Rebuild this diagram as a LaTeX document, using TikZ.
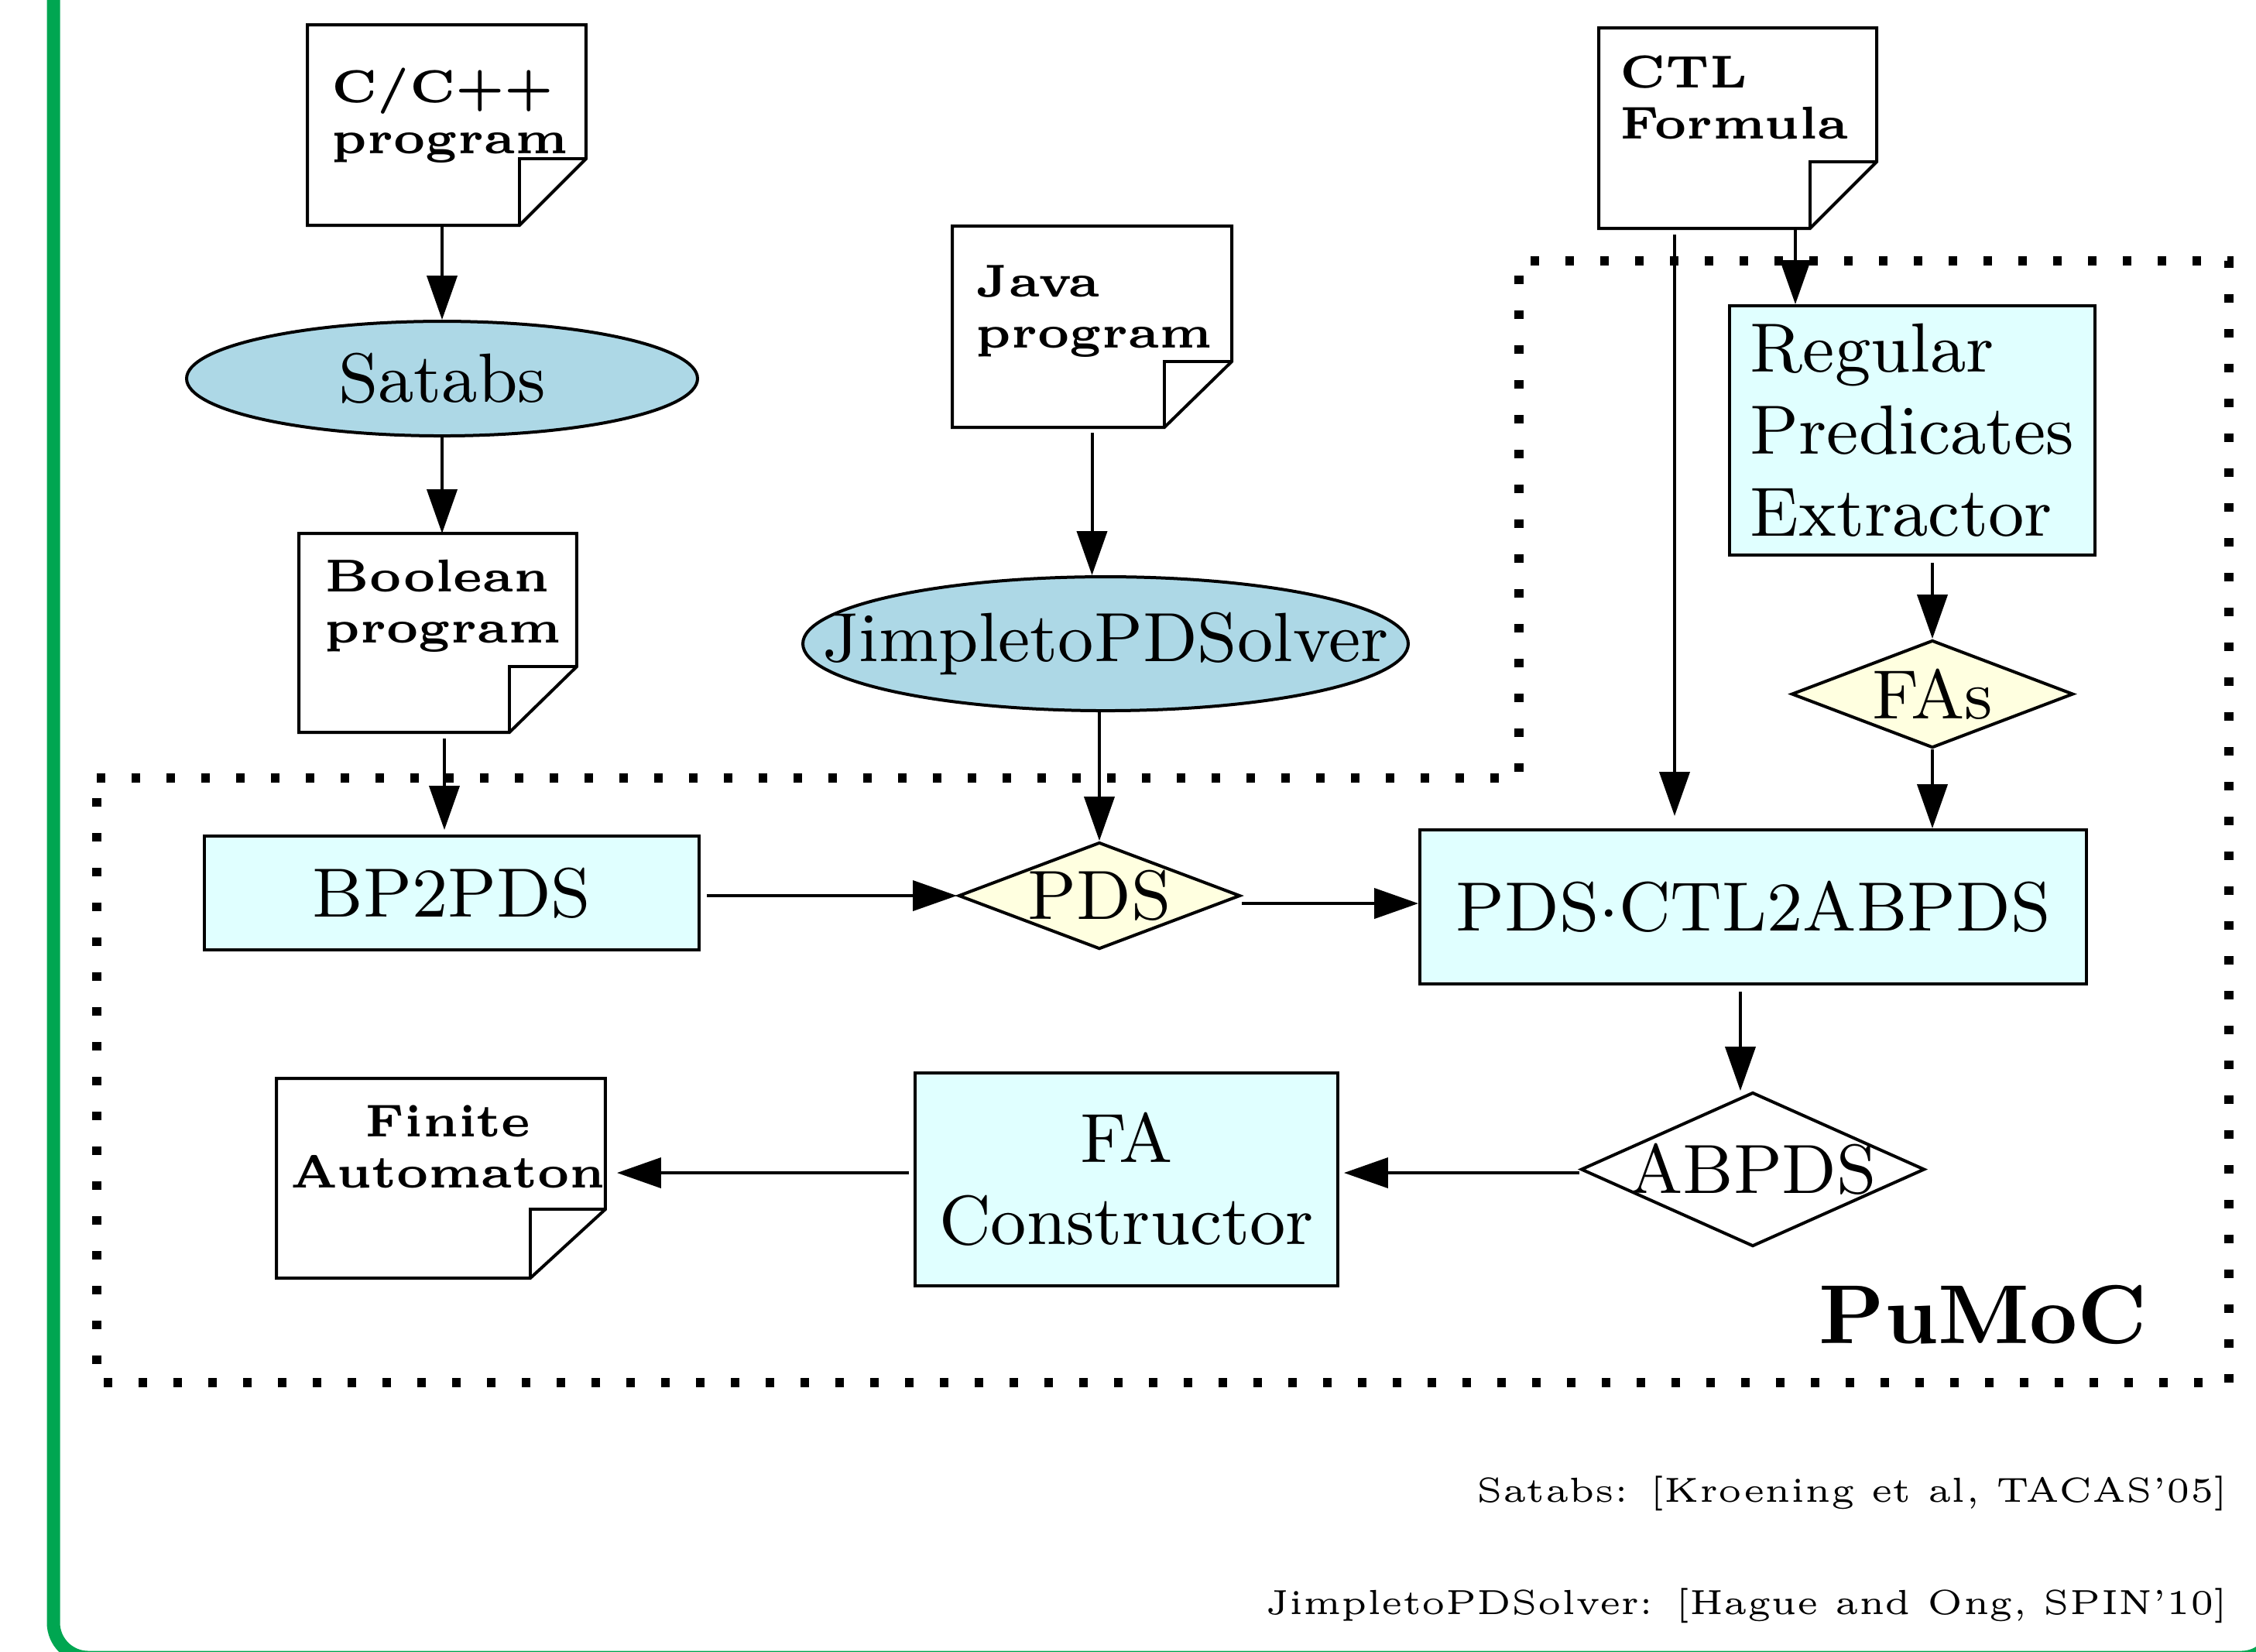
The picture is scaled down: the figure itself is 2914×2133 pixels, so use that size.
\documentclass[tikz,border=0pt]{standalone}
\usepackage{xcolor}
\usetikzlibrary{shapes.geometric,arrows.meta}

\definecolor{azulclaro}{HTML}{ADD8E6}
\definecolor{cianclaro}{HTML}{E0FFFF}
\definecolor{amarilloclaro}{HTML}{FFFFE0}
\definecolor{verdemarco}{RGB}{0,166,81}

\tikzset{
  borde/.style={line width=0.4pt},
  documento/.style={inner sep=0pt},
  textodoc/.style={inner sep=0pt, font=\fontsize{5.95}{6.6}\selectfont\bfseries},
  herramienta/.style={ellipse, draw, borde, fill=azulclaro, inner sep=0pt,
    font=\fontsize{9}{10.6}\selectfont},
  modulo/.style={rectangle, draw, borde, fill=cianclaro, inner sep=0pt,
    align=center, font=\fontsize{9}{10.6}\selectfont},
  dato/.style={diamond, draw, borde, fill=amarilloclaro, inner sep=0pt,
    font=\fontsize{9}{10.6}\selectfont},
  flecha/.style={borde, -{Triangle[length=5.7pt,width=3.9pt]}},
  limite/.style={line width=1.2pt, dash pattern=on 1.1pt off 3.4pt},
  referencia/.style={anchor=base east, inner sep=0pt,
    font=\fontsize{4.5}{5.5}\selectfont}
}

\begin{document}
\begin{tikzpicture}[x=0.1pt, y=0.1pt]
        % Paso 1: Fija el marco de la pagina
        \useasboundingbox (0,0) rectangle (2914,-2133);
        \draw[verdemarco, line width=1.7pt, rounded corners=4.5pt]
            (69,150) -- (69,-2141) -- (2940,-2141) -- (2940,150);

        % Paso 2: Dibuja el limite punteado de PuMoC
        \draw[limite] (125,-1005) -- (1962,-1005) -- (1962,-337)
            -- (2879,-337) -- (2879,-1786) -- (125,-1786) -- cycle;
        \node[anchor=base east, inner sep=0pt,
            font=\fontsize{10.8}{13}\selectfont\bfseries] (pumoc) at (2775,-1735) {PuMoC};

        % Paso 3: Define los documentos de entrada y salida
        \node[documento, minimum width=35.6pt, minimum height=25.5pt] (cpp) at (577,-161.5) {};
        \node[documento, minimum width=35.5pt, minimum height=25.3pt] (bool) at (565.5,-817.5) {};
        \node[documento, minimum width=35.7pt, minimum height=25.6pt] (java) at (1410.5,-422) {};
        \node[documento, minimum width=35.5pt, minimum height=25.5pt] (ctl) at (2244.5,-165.5) {};
        \node[documento, minimum width=42.1pt, minimum height=25.4pt] (fa) at (569.5,-1522) {};

        % Paso 4: Dibuja las hojas con la esquina doblada
        \foreach \d/\fx/\fy in {cpp/8.6/8.6, bool/8.7/8.5, java/8.7/8.5, ctl/8.6/8.6, fa/9.7/8.9} {
            \draw[borde] (\d.north west) -- (\d.north east) -- ([yshift=\fy pt]\d.south east)
                -- ([xshift=-\fx pt]\d.south east) -- (\d.south west) -- cycle;
            \draw[borde] ([yshift=\fy pt]\d.south east) -| ([xshift=-\fx pt]\d.south east);
        }

        % Paso 5: Escribe los textos de los documentos
        \node[textodoc, align=left] (cpptxt) at (581,-149.5) {C/C++\\program};
        \node[textodoc, align=left] (booltxt) at (572,-783) {Boolean\\program};
        \node[textodoc, align=left] (javatxt) at (1413,-402) {Java\\program};
        \node[textodoc, align=left] (ctltxt) at (2240,-126) {CTL\\Formula};
        \node[textodoc, align=center] (fatxt) at (578.5,-1481) {Finite\\Automaton};

        % Paso 6: Coloca herramientas, modulos y datos
        \node[herramienta, minimum width=66pt, minimum height=14.8pt] (satabs) at (571,-489) {Satabs};
        \node[herramienta, minimum width=78.2pt, minimum height=17.3pt] (jimple) at (1428,-831.5)
            {\makebox[0pt]{JimpletoPDSolver}};
        \node[modulo, minimum width=63.9pt, minimum height=14.7pt] (bp2pds) at (583.5,-1153.5) {BP2PDS};
        \node[dato, minimum width=36.4pt, minimum height=13.8pt] (pds) at (1420,-1157) {\makebox[0pt]{PDS}};
        \node[modulo, minimum width=47.2pt, minimum height=32.2pt, align=left] (rpe) at (2470,-556)
            {Regular\\Predicates\\Extractor};
        \node[dato, minimum width=36.4pt, minimum height=13.9pt] (fas) at (2496,-896.5) {\makebox[0pt]{FAs}};
        \node[modulo, minimum width=86.1pt, minimum height=19.9pt] (pdsctl) at (2264.5,-1171.5)
            {PDS$\cdot$CTL2ABPDS};
        \node[dato, fill=white, minimum width=44.4pt, minimum height=19.9pt] (abpds) at (2264,-1510.5)
            {\makebox[0pt]{ABPDS}};
        \node[modulo, minimum width=54.6pt, minimum height=27.5pt] (facons) at (1455,-1523.5)
            {FA\\Constructor};

        % Paso 7: Une los nodos con flechas
        \draw[flecha] (cpp.south -| satabs.north) -- (satabs.north);
        \draw[flecha] (satabs.south) -- (satabs.south |- bool.north);
        \draw[flecha, shorten <=0.8pt, shorten >=0.6pt] ([xshift=0.85pt]bool.south)
            -- ([xshift=0.85pt]bool.south |- bp2pds.north);
        \draw[flecha, shorten <=0.7pt] (java.south) -- (java.south |- jimple.north);
        \draw[flecha] (pds.north |- jimple.south) -- (pds.north);
        \draw[flecha, shorten <=0.8pt] (bp2pds.east |- pds.west) -- (pds.west);
        \draw[flecha] ([yshift=-1pt]pds.east) -- ([yshift=-1pt]pds.east -| pdsctl.west);
        \draw[flecha, shorten <=0.8pt, shorten >=1.6pt] ([xshift=-8.15pt]ctl.south)
            -- ([xshift=-8.15pt]ctl.south |- pdsctl.north);
        \draw[flecha] ([xshift=7.45pt]ctl.south) -- ([xshift=7.45pt]ctl.south |- rpe.north);
        \draw[flecha, shorten <=0.8pt] (fas.north |- rpe.south) -- (fas.north);
        \draw[flecha] (fas.south) -- (fas.south |- pdsctl.north);
        \draw[flecha, shorten <=0.8pt] ([xshift=-1.6pt]abpds.north |- pdsctl.south)
            -- ([xshift=-1.6pt]abpds.north);
        \draw[flecha, shorten >=0.6pt] ([yshift=-0.45pt]abpds.west)
            -- ([yshift=-0.45pt]abpds.west -| facons.east);
        \draw[flecha, shorten <=0.6pt, shorten >=1.5pt] ([yshift=0.85pt]facons.west)
            -- ([yshift=0.85pt]facons.west -| fa.east);

        % Paso 8: Agrega las referencias
        \node[referencia] (refsatabs) at (2880,-1940) {Satabs: [Kroening et al, TACAS'05]};
        \node[referencia] (refjimple) at (2880,-2085) {JimpletoPDSolver: [Hague and Ong, SPIN'10]};
    \end{tikzpicture}
\end{document}
